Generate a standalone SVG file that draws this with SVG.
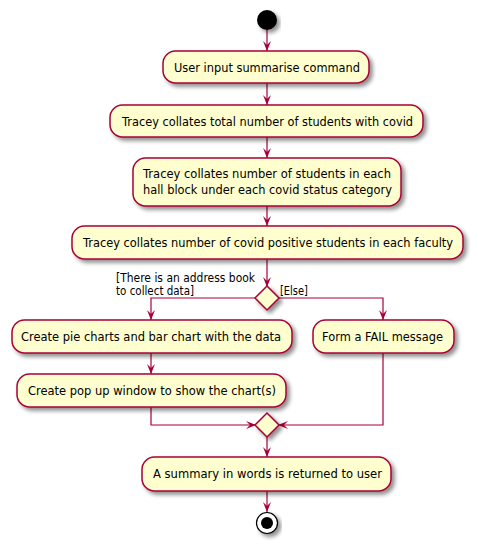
<svg xmlns="http://www.w3.org/2000/svg" width="478" height="549" viewBox="0 0 478 549">
<defs>
<filter id="sh" x="-10%" y="-20%" width="130%" height="160%">
<feGaussianBlur in="SourceAlpha" stdDeviation="2"/>
<feOffset dx="3" dy="3" result="b"/>
<feComponentTransfer><feFuncA type="linear" slope="0.45"/></feComponentTransfer>
<feMerge><feMergeNode/><feMergeNode in="SourceGraphic"/></feMerge>
</filter>
<marker id="ah" viewBox="0 0 10 8" refX="10" refY="4" markerWidth="10" markerHeight="8" markerUnits="userSpaceOnUse" orient="auto">
<path d="M0,0 L10,4 L0,8 L4,4 Z" fill="#A80036"/>
</marker>
</defs>
<style>
.box{fill:#FEFECE;stroke:#A80036;stroke-width:1.5;filter:url(#sh)}
.t{font-family:"DejaVu Sans","Liberation Sans",sans-serif;font-size:12px;fill:#000}
.l{font-family:"DejaVu Sans","Liberation Sans",sans-serif;font-size:11.5px;fill:#000}
.c{fill:none;stroke:#A80036;stroke-width:1.2;marker-end:url(#ah)}
</style>
<rect width="478" height="549" fill="#fff"/>
<g id="connectors">
<line class="c" x1="267" y1="30" x2="267" y2="51"/>
<line class="c" x1="267" y1="83" x2="267" y2="105"/>
<line class="c" x1="267" y1="137" x2="267" y2="158"/>
<line class="c" x1="267" y1="206" x2="267" y2="226"/>
<line class="c" x1="267" y1="259" x2="267" y2="287"/>
<polyline class="c" points="256,298 151,298 151,320"/>
<polyline class="c" points="278,298 383,298 383,320"/>
<line class="c" x1="151" y1="353" x2="151" y2="374"/>
<polyline class="c" points="151,407 151,425 256,425"/>
<polyline class="c" points="383,353 383,425 278,425"/>
<line class="c" x1="267" y1="437" x2="267" y2="457"/>
<line class="c" x1="267" y1="491" x2="267" y2="512"/>
<text class="l" x="116" y="282" textLength="139" lengthAdjust="spacingAndGlyphs">[There is an address book</text>
<text class="l" x="116" y="295" textLength="78" lengthAdjust="spacingAndGlyphs">to collect data]</text>
<text class="l" x="280" y="295" textLength="28" lengthAdjust="spacingAndGlyphs">[Else]</text>
</g>
<g id="start"><circle cx="267" cy="20" r="10" fill="#000" filter="url(#sh)"/></g>
<g id="n1"><rect class="box" x="163" y="51" width="206" height="32" rx="12.5"/><text class="t" x="174" y="72" textLength="186" lengthAdjust="spacingAndGlyphs">User input summarise command</text></g>
<g id="n2"><rect class="box" x="110" y="105" width="313" height="32" rx="12.5"/><text class="t" x="122" y="126" textLength="291" lengthAdjust="spacingAndGlyphs">Tracey collates total number of students with covid</text></g>
<g id="n3"><rect class="box" x="133" y="158" width="268" height="48" rx="12.5"/><text class="t" x="143" y="178" textLength="248" lengthAdjust="spacingAndGlyphs">Tracey collates number of students in each</text><text class="t" x="143" y="194" textLength="249" lengthAdjust="spacingAndGlyphs">hall block under each covid status category</text></g>
<g id="n4"><rect class="box" x="72" y="226" width="391" height="33" rx="12.5"/><text class="t" x="83" y="247" textLength="370" lengthAdjust="spacingAndGlyphs">Tracey collates number of covid positive students in each faculty</text></g>
<g id="d1"><polygon class="box" points="267,286 279,298 267,310 255,298"/></g>
<g id="n5"><rect class="box" x="12" y="320" width="280" height="33" rx="12.5"/><text class="t" x="21" y="341" textLength="260" lengthAdjust="spacingAndGlyphs">Create pie charts and bar chart with the data</text></g>
<g id="n6"><rect class="box" x="313" y="320" width="141" height="33" rx="12.5"/><text class="t" x="322" y="341" textLength="121" lengthAdjust="spacingAndGlyphs">Form a FAIL message</text></g>
<g id="n7"><rect class="box" x="17" y="374" width="269" height="33" rx="12.5"/><text class="t" x="28" y="395" textLength="248" lengthAdjust="spacingAndGlyphs">Create pop up window to show the chart(s)</text></g>
<g id="d2"><polygon class="box" points="267,413 279,425 267,437 255,425"/></g>
<g id="n8"><rect class="box" x="142" y="457" width="249" height="34" rx="12.5"/><text class="t" x="153" y="478" textLength="229" lengthAdjust="spacingAndGlyphs">A summary in words is returned to user</text></g>
<g id="end"><circle cx="267" cy="523" r="10.5" fill="#fff" stroke="#000" stroke-width="1.2" filter="url(#sh)"/><circle cx="267" cy="523" r="6" fill="#000"/></g>
</svg>
